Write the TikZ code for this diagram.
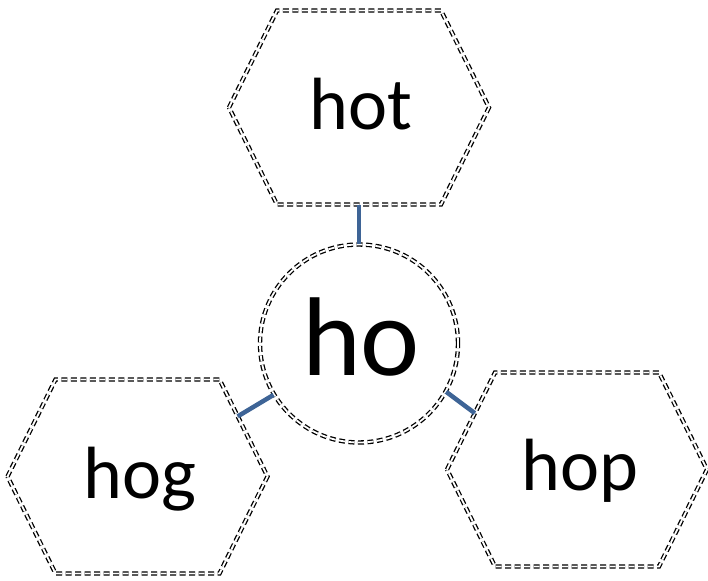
\documentclass[tikz,border=0pt]{standalone}
\usepackage{fontspec}
\setmainfont{Carlito}
\usetikzlibrary{calc}
\definecolor{connblue}{RGB}{62,100,150}
\tikzset{
  dd/.style={draw=black, line width=1.3pt, double=white, double distance=1.8pt, dash pattern=on 6pt off 3.5pt},
  conn/.style={draw=connblue, line width=4.5pt},
  lbl/.style={anchor=base, inner sep=0pt, font=\fontsize{74}{74}\selectfont},
  biglbl/.style={anchor=base, inner sep=0pt, font=\fontsize{112}{112}\selectfont},
}
\newcommand\hexshape[3]{%
  \coordinate (#1L) at (#2-130,#3);
  \coordinate (#1TL) at (#2-82,#3-97);
  \coordinate (#1TR) at (#2+82,#3-97);
  \coordinate (#1R) at (#2+130,#3);
  \coordinate (#1BR) at (#2+82,#3+97);
  \coordinate (#1BL) at (#2-82,#3+97);
  \draw[dd] (#1L) -- (#1TL) -- (#1TR) -- (#1R) -- (#1BR) -- (#1BL) -- cycle;
}
\begin{document}
\begin{tikzpicture}[x=1pt,y=-1pt]
\useasboundingbox (0,0) rectangle (708,580);
\hexshape{hot}{359}{107.5}
\hexshape{hog}{137.5}{476.5}
\hexshape{hop}{577}{469.5}
\node[dd, circle, minimum size=198pt, inner sep=0pt] (ho) at (359,343.5) {};
\node[biglbl] (hotxt) at (361,375) {ho};
\node[lbl] (hottxt) at (361,130) {hot};
\node[lbl] (hogtxt) at (140,498) {hog};
\node[lbl] (hoptxt) at (580,490) {hop};
\coordinate (hotB) at ($(hotBL)!0.5!(hotBR)$);
\coordinate (hogE) at ($(hogTR)!0.38!(hogR)$);
\coordinate (hopE) at ($(hopTL)!0.42!(hopL)$);
\draw[conn] (hotB) -- (ho.north);
\draw[conn] (hogE) -- (ho.211);
\draw[conn] (hopE) -- (ho.-29);
\end{tikzpicture}
\end{document}
